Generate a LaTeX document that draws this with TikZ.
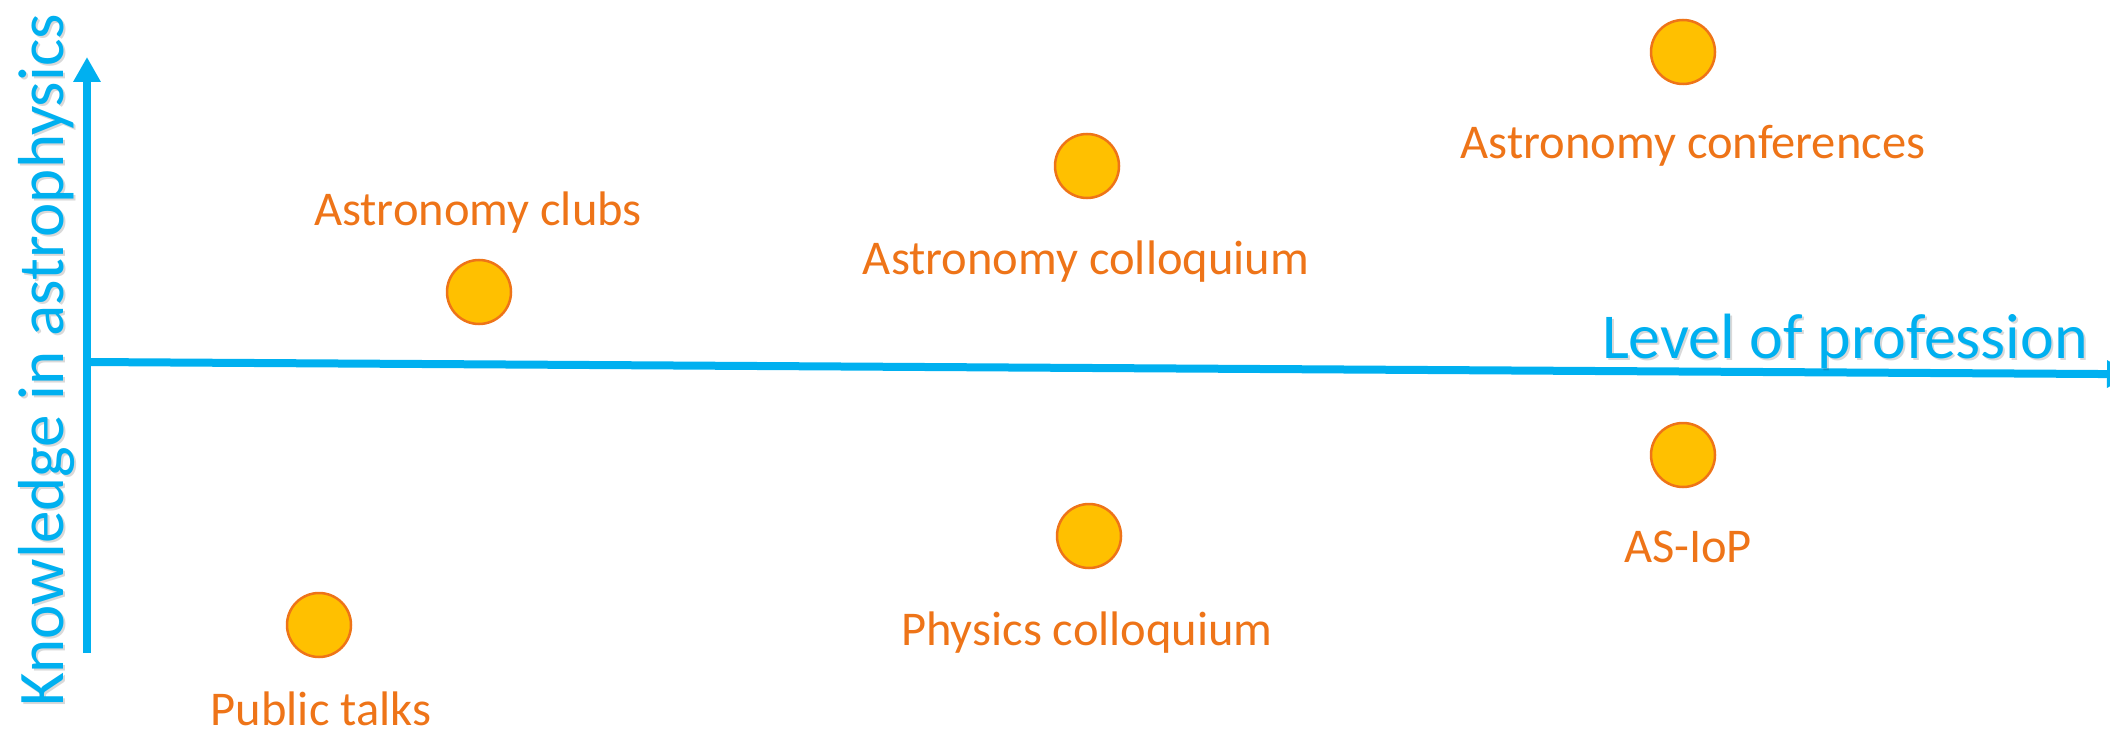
\documentclass[tikz,border=0pt]{standalone}
\usepackage{fontspec}
\setmainfont{Carlito}
\usetikzlibrary{arrows.meta}
\definecolor{axisblue}{HTML}{00B0F0}
\definecolor{labelorange}{HTML}{EE7418}
\definecolor{dotfill}{HTML}{FFC000}
\definecolor{dotedge}{HTML}{EE7418}
\tikzset{
  axisline/.style={axisblue, line width=8pt, -{Triangle[length=25pt,width=26pt]}},
  event/.style={circle, fill=dotfill, draw=dotedge, line width=2.5pt, minimum size=64pt, inner sep=0pt},
  eventlabel/.style={anchor=base, inner sep=0pt, text=labelorange, font=\fontsize{48.5}{58}\selectfont},
  axislabel/.style={anchor=base, inner sep=0pt, text=axisblue, font=\fontsize{64}{76}\selectfont},
  axisshadow/.style={anchor=base, inner sep=0pt, text=black, opacity=0.15, font=\fontsize{64}{76}\selectfont}
}
\begin{document}
\begin{tikzpicture}[x=1pt,y=-1pt]
\useasboundingbox (0,0) rectangle (2110,733);
% axes
\coordinate (origin) at (87,362);
\coordinate (ybottom) at (87,653);
\coordinate (ytip) at (87,57);
\coordinate (xtip) at (2132,374.2);
\draw[axisline] (ybottom) -- (ytip);
\draw[axisline] (origin) -- (xtip);
% axis labels
\node[axisshadow, font=\fontsize{65}{78}\selectfont, rotate=90] (yshadow) at (65,362) {Knowledge in astrophysics};
\node[axislabel, font=\fontsize{65}{78}\selectfont, rotate=90] (ylabel) at (63,360) {Knowledge in astrophysics};
\node[axisshadow] (xshadow) at (1847,360) {Level of profession};
\node[axislabel] (xlabel) at (1845,358) {Level of profession};
% events
\node[event] (clubs) at (479,292) {};
\node[eventlabel] (clubsl) at (478,225) {Astronomy clubs};
\node[event] (colloq) at (1087,166) {};
\node[eventlabel] (colloql) at (1086,274) {Astronomy colloquium};
\node[event] (conf) at (1683,52) {};
\node[eventlabel] (confl) at (1693,159) {Astronomy conferences};
\node[event] (public) at (319,625) {};
\node[eventlabel] (publicl) at (321,725) {Public talks};
\node[event] (physics) at (1089,536) {};
\node[eventlabel] (physicsl) at (1087,645) {Physics colloquium};
\node[event] (asiop) at (1683,455) {};
\node[eventlabel] (asiopl) at (1688,562) {AS-IoP};
\end{tikzpicture}
\end{document}
